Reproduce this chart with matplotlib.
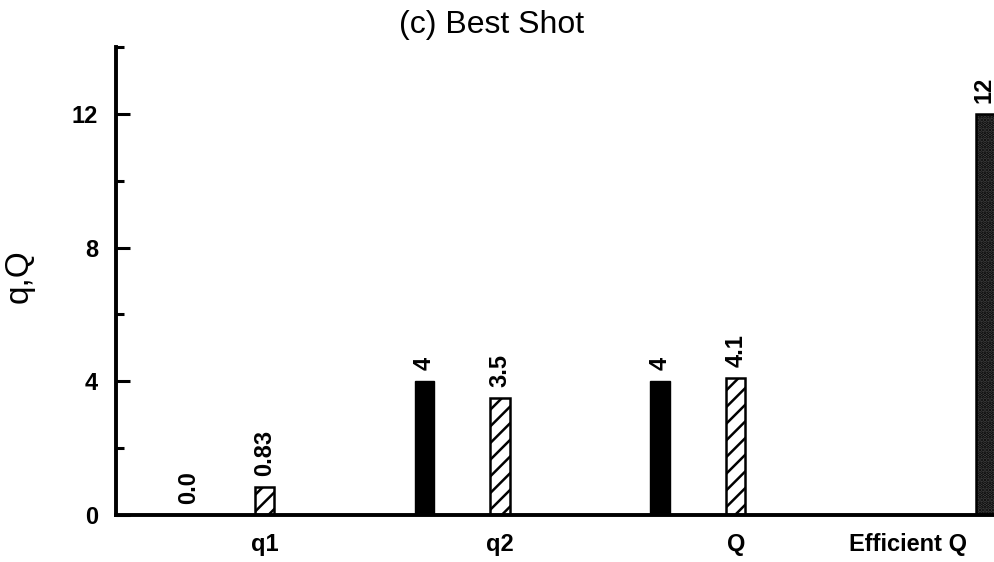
import matplotlib
matplotlib.use("Agg")
import matplotlib.pyplot as plt
import numpy as np

categories = ["q1", "q2", "Q"]
black_values = [0.0, 4.0, 4.0]
black_labels = ["0.0", "4", "4"]
hatched_values = [0.83, 3.5, 4.1]
hatched_labels = ["0.83", "3.5", "4.1"]
efficient_value = 12.0
efficient_label = "12"
efficient_category = "Efficient Q"
yticks_major = [0, 4, 8, 12]
yticks_minor = [2, 6, 10, 14]

plt.rcParams['font.family'] = ['Liberation Sans', 'DejaVu Sans']
plt.rcParams['hatch.linewidth'] = 1.8

fig = plt.figure(figsize=(9.95, 5.62), dpi=100)
ax = fig.add_axes([116/995, 47/562, 1 - 116/995, (515-47)/562])

xg = np.arange(len(categories))
off = 0.322
w = 0.082
ax.bar(xg - off, black_values, width=w, color='black', edgecolor='black')
ax.bar(xg, hatched_values, width=w, color='white', edgecolor='black',
       hatch='//', linewidth=1.8)
x_eff = 3.06
ax.bar([x_eff], [efficient_value], width=w, color='#4a4a4a', edgecolor='black',
       hatch='.....', linewidth=1.8)

lab_fs = 17
for x, v, t in zip(xg - off, black_values, black_labels):
    ax.annotate(t, (x, v), xytext=(0, 8), textcoords='offset points',
                rotation=90, ha='center', va='bottom', fontsize=lab_fs, fontweight='bold')
for x, v, t in zip(xg, hatched_values, hatched_labels):
    ax.annotate(t, (x, v), xytext=(0, 8), textcoords='offset points',
                rotation=90, ha='center', va='bottom', fontsize=lab_fs, fontweight='bold')
ax.annotate(efficient_label, (x_eff - 0.005, efficient_value), xytext=(0, 8),
            textcoords='offset points', rotation=90, ha='center', va='bottom',
            fontsize=lab_fs, fontweight='bold')

ax.set_xlim(-0.63, 3.1)
ax.set_ylim(0, 14)
ax.set_yticks(yticks_major)
ax.set_yticks(yticks_minor, minor=True)
ax.set_yticklabels([str(v) for v in yticks_major], fontsize=17, fontweight='bold')
ax.tick_params(axis='y', which='major', direction='in', length=10, width=2.2, pad=13)
ax.tick_params(axis='y', which='minor', direction='in', length=6, width=2.2)

ax.set_xticks(list(xg) + [2.73])
ax.set_xticklabels(categories + [efficient_category], fontsize=17, fontweight='bold')
ax.tick_params(axis='x', length=0, pad=13)

for s in ['top', 'right']:
    ax.spines[s].set_visible(False)
ax.spines['left'].set_linewidth(2.8)
ax.spines['bottom'].set_linewidth(2.8)

ax.set_ylabel("q,Q", fontsize=24)
ax.yaxis.set_label_coords(-0.093, 0.51)

fig.text(0.494, 0.955, "(c) Best Shot", ha='center', va='center', fontsize=23)

fig.savefig("out.png", dpi=100)
